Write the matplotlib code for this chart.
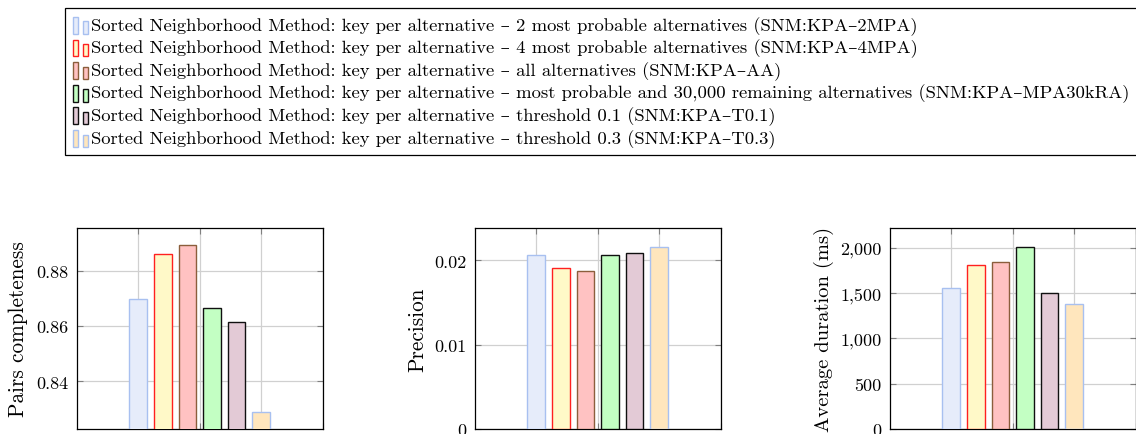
import matplotlib
matplotlib.use("Agg")
import matplotlib.pyplot as plt
import matplotlib.ticker as ticker
from matplotlib.patches import Rectangle
from matplotlib.legend_handler import HandlerBase

plt.rcParams['font.family'] = ['cmr10', 'DejaVu Serif']
plt.rcParams['mathtext.fontset'] = 'cm'
plt.rcParams['axes.formatter.use_mathtext'] = True

labels = [
    "Sorted Neighborhood Method: key per alternative \u2013 2 most probable alternatives (SNM:KPA\u20132MPA)",
    "Sorted Neighborhood Method: key per alternative \u2013 4 most probable alternatives (SNM:KPA\u20134MPA)",
    "Sorted Neighborhood Method: key per alternative \u2013 all alternatives (SNM:KPA\u2013AA)",
    "Sorted Neighborhood Method: key per alternative \u2013 most probable and 30,000 remaining alternatives (SNM:KPA\u2013MPA30kRA)",
    "Sorted Neighborhood Method: key per alternative \u2013 threshold 0.1 (SNM:KPA\u2013T0.1)",
    "Sorted Neighborhood Method: key per alternative \u2013 threshold 0.3 (SNM:KPA\u2013T0.3)",
]
face_colors = ["#e6ecfa", "#fff9c8", "#ffc2c2", "#c3ffc3", "#e3cad6", "#ffe6bd"]
edge_colors = ["#a8c0f0", "#ff2020", "#8b5e3c", "#101010", "#101010", "#a8c0f0"]

pairs_completeness = [0.8698, 0.8863, 0.8897, 0.8668, 0.8617, 0.8288]
precision = [0.02068, 0.0191, 0.01878, 0.02066, 0.02091, 0.02163]
avg_duration = [1553, 1810, 1838, 2012, 1501, 1383]

# values, y label, label size, y limits, y ticks, label x (axes fraction, right edge of rotated text)
panels = [
    (pairs_completeness, "Pairs completeness", 15.3, (0.8227, 0.8957), [0.84, 0.86, 0.88], -0.2),
    (precision, "Precision", 15.3, (0, 0.02384), [0, 0.01, 0.02], -0.195),
    (avg_duration, "Average duration (ms)", 14.8, (0, 2218), [0, 500, 1000, 1500, 2000], -0.23),
]

W, H = 1136, 435
fig = plt.figure(figsize=(W / 100, H / 100), dpi=100)

lefts = [77, 475, 890]
bar_x = [1.0, 1.4, 1.8, 2.2, 2.6, 3.0]


def fmt_num(v, pos):
    if v == 0:
        return "0"
    if abs(v) >= 100:
        return f"{v:,.0f}"
    return f"{v:g}"


handles = []
for (vals, ylab, labsize, ylim, yticks, labx), left in zip(panels, lefts):
    ax = fig.add_axes([left / W, 5 / H, 245.5 / W, 201 / H])
    bars = ax.bar(bar_x, vals, width=0.29, color=face_colors,
                  edgecolor=edge_colors, linewidth=1.0, zorder=3)
    if not handles:
        handles = list(bars)
    ax.set_xlim(0, 4)
    ax.set_ylim(*ylim)
    ax.set_xticks([1, 2, 3, 4])
    ax.set_yticks(yticks)
    ax.yaxis.set_major_formatter(ticker.FuncFormatter(fmt_num))
    ax.grid(True, color="#d0d0d0", linewidth=0.9, zorder=0)
    ax.set_axisbelow(True)
    ax.tick_params(direction="in", length=4, color="0.5", top=True, right=True,
                   labelbottom=False, labelsize=13, pad=6)
    for sp in ax.spines.values():
        sp.set_linewidth(0.9)
    ax.set_ylabel(ylab, fontsize=labsize)
    ax.yaxis.set_label_coords(labx, 0.5)


class TwoBars(HandlerBase):
    def create_artists(self, legend, orig_handle, xdescent, ydescent,
                       width, height, fontsize, trans):
        fc = orig_handle.get_facecolor()
        ec = orig_handle.get_edgecolor()
        bw = width * 0.3
        r1 = Rectangle((-xdescent, -ydescent - 3), bw, height * 1.3, facecolor=fc,
                       edgecolor=ec, linewidth=1.0, transform=trans)
        r2 = Rectangle((-xdescent + width * 0.58, -ydescent - 3), bw, height * 0.95,
                       facecolor=fc, edgecolor=ec, linewidth=1.0, transform=trans)
        return [r1, r2]


leg = fig.legend(handles, labels, loc="upper left",
                 bbox_to_anchor=(65 / W, 1 - 9 / H),
                 handler_map={h: TwoBars() for h in handles},
                 fontsize=13.4, frameon=True, fancybox=False, edgecolor="black",
                 framealpha=1, borderaxespad=0, handlelength=0.95,
                 handletextpad=0.05, labelspacing=0.21, borderpad=0.42)
leg.get_frame().set_linewidth(0.9)

fig.savefig("out.png", dpi=100)
